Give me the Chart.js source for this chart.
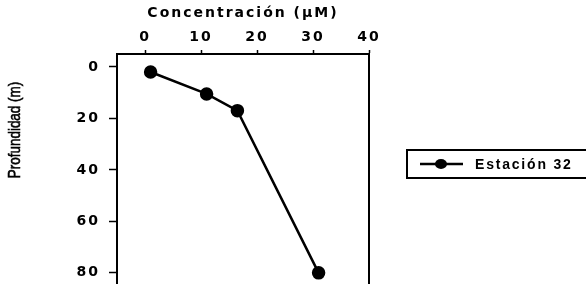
<!DOCTYPE html>
<html>
<head>
<meta charset="utf-8">
<script src="https://cdn.jsdelivr.net/npm/chart.js@4.4.1/dist/chart.umd.min.js"></script>
<style>
  html, body { margin: 0; padding: 0; background: #fff; overflow: hidden; }
  #wrap { position: relative; width: 586px; height: 316px; }
</style>
</head>
<body>
<div id="wrap"><canvas id="perfil"></canvas></div>
<script>
// datos
var concentracion = [1, 11, 16.5, 31];
var profundidad = [2, 10.5, 17, 80];
var serieNombre = 'Estación 32';
var xTicks = [0, 10, 20, 30, 40];
var yTicks = [0, 20, 40, 60, 80];

var puntos = [];
for (var i in concentracion) {
    puntos.push({ x: concentracion[i], y: profundidad[i] });
}

var spacing = {
    id: 'spacing',
    beforeLayout: function(chart) { chart.ctx.letterSpacing = '2px'; },
    beforeDraw: function(chart) { chart.ctx.letterSpacing = '2px'; }
};

var extras = {
    id: 'extras',
    afterDraw: function(chart) {
        var ctx = chart.ctx;
        var a = chart.chartArea;
        ctx.save();
        // marco del grafico
        ctx.strokeStyle = '#000';
        ctx.lineWidth = 2;
        ctx.strokeRect(a.left, a.top, a.right - a.left, a.bottom - a.top);

        // titulo eje y (letra condensada)
        ctx.letterSpacing = '0px';
        ctx.fillStyle = '#000';
        ctx.font = '17px "Liberation Sans", Arial, sans-serif';
        ctx.translate(15, 130);
        ctx.rotate(-Math.PI / 2);
        ctx.scale(0.79, 1);
        ctx.textAlign = 'center';
        ctx.textBaseline = 'middle';
        ctx.fillText('Profundidad (m)', 0, 0);
        ctx.lineWidth = 0.6;
        ctx.strokeText('Profundidad (m)', 0, 0);
        ctx.restore();

        // leyenda
        ctx.save();
        ctx.strokeStyle = '#000';
        ctx.lineWidth = 2;
        ctx.strokeRect(407, 150, 190, 28);
        ctx.lineWidth = 2.5;
        ctx.beginPath();
        ctx.moveTo(420, 164);
        ctx.lineTo(463, 164);
        ctx.stroke();
        ctx.beginPath();
        ctx.ellipse(441, 164, 6, 5, 0, 0, Math.PI * 2);
        ctx.fillStyle = '#000';
        ctx.fill();
        ctx.letterSpacing = '1.8px';
        ctx.font = 'bold 14px "Liberation Sans", Arial, sans-serif';
        ctx.textBaseline = 'middle';
        ctx.textAlign = 'left';
        ctx.fillText(serieNombre, 475, 165);
        ctx.restore();
    }
};

var ctx = document.getElementById('perfil');
var fuente = '"DejaVu Sans", Verdana, sans-serif';

var grafico = new Chart(ctx, {
    type: 'scatter',
    data: {
        datasets: [{
            label: serieNombre,
            data: puntos,
            showLine: true,
            borderColor: '#000',
            backgroundColor: '#000',
            borderWidth: 2.5,
            pointRadius: 5.5,
            pointHoverRadius: 5.5
        }]
    },
    options: {
        responsive: true,
        maintainAspectRatio: false,
        animation: false,
        layout: { padding: { left: 0, right: 217, top: 0, bottom: 7 } },
        plugins: {
            legend: { display: false },
            tooltip: { enabled: false }
        },
        scales: {
            x: {
                type: 'linear',
                position: 'top',
                min: -5,
                max: 40,
                afterBuildTicks: function(axis) {
                    axis.ticks = xTicks.map(function(v) { return { value: v }; });
                },
                afterFit: function(axis) { axis.height = 54; },
                grid: { drawOnChartArea: false, drawTicks: true, tickLength: 4, tickColor: '#000', tickWidth: 1.5 },
                border: { display: true, color: '#000', width: 2 },
                ticks: {
                    color: '#000',
                    padding: 4,
                    font: { family: fuente, size: 14, weight: 'bold' }
                },
                title: {
                    display: true,
                    text: 'Concentración (µM)',
                    color: '#000',
                    padding: { top: 5, bottom: 2 },
                    font: { family: fuente, size: 14, weight: 'bold' }
                }
            },
            y: {
                type: 'linear',
                reverse: true,
                min: -5,
                max: 90,
                afterBuildTicks: function(axis) {
                    axis.ticks = yTicks.map(function(v) { return { value: v }; });
                },
                afterFit: function(axis) { axis.width = 117; },
                grid: { drawOnChartArea: false, drawTicks: true, tickLength: 8, tickColor: '#000', tickWidth: 1.5 },
                border: { display: true, color: '#000', width: 2 },
                ticks: {
                    color: '#000',
                    padding: 9,
                    font: { family: fuente, size: 14, weight: 'bold' }
                }
            }
        }
    },
    plugins: [spacing, extras]
});
</script>
</body>
</html>
